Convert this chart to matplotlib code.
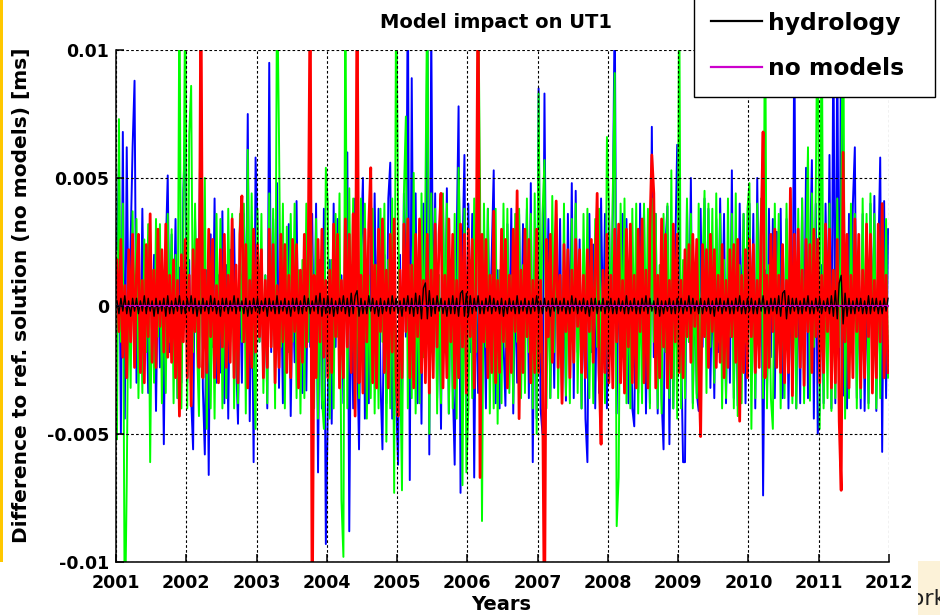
import numpy as np
import matplotlib
matplotlib.use("Agg")
import matplotlib.pyplot as plt
from matplotlib.patches import Rectangle

# UT1 differences to the reference solution, in units of 1e-4 ms.
# 36 samples per year, one row per year (2001 ... 2011).
blue_rows = [
    [22, 56, -50, 68, -44, 62, -12, 25, 62, 88, -30, 14, -22, 38, -16, 8, -34, 24, -12, 20, -41, 16, -24, 11, -54, 22, 51, -18, 28, -10, 34, -36, 15, -30, 45, 70],
    [-30, 18, -36, -56, 34, -12, 20, 86, -32, -58, 14, -66, 28, -16, 42, -30, 12, -26, 37, -38, 16, -44, 22, -8, 30, -20, -46, 12, -30, 36, -14, 75, -45, 20, -61, 58],
    [30, -14, 20, -28, 12, -40, 95, -18, 34, -10, 48, -32, 16, -38, 24, -12, 32, -43, 10, -22, 41, -28, 14, -34, 20, -33, 25, -16, 36, -24, 40, -65, 18, -40, 38, -93],
    [-40, 18, -46, 40, -16, 34, -28, 12, -38, 30, 60, -88, 16, -40, 42, -14, -56, 22, 50, -44, 10, -38, 26, -20, 44, -12, 38, -30, -56, 20, -38, 42, 56, -44, 14, -36],
    [-62, 20, -38, 44, -12, 130, -68, 89, -20, 44, -38, 16, -46, 40, -24, 120, -58, 110, -16, 44, -36, 12, -48, 40, -18, 46, -42, 14, -30, -62, 24, 78, -73, 20, 59, -44],
    [40, -18, 36, -67, 14, -34, 22, -36, 12, -40, 38, -12, 20, 53, -38, 14, -40, 26, -14, -39, 32, -16, 38, -42, 10, -30, 36, -20, 32, -12, 38, -36, 48, -61, 18, -44],
    [85, -40, -50, 83, -18, 34, -36, 14, -32, 36, -10, 34, -38, 12, -37, 36, -14, 48, -36, 45, -18, 26, -40, 14, -44, -61, 36, -18, 24, -40, 16, -34, 42, -12, 36, -40],
    [40, -18, 36, 120, -42, 18, -30, 36, -14, 34, -38, 12, -40, -47, 22, -34, 40, -16, 38, -42, 14, -38, 70, -20, 36, -42, 12, -36, -56, 24, 39, -54, 16, -40, 22, 63],
    [38, -16, -61, -61, 40, -14, 50, -38, 12, -34, -41, 38, -16, 42, -12, 38, -32, 14, -36, 34, -18, 42, -10, 36, -38, 14, -30, 53, -36, 18, -39, 40, -14, 36, -38, 20],
    [40, -18, 36, -40, 50, -16, 38, -74, 14, -34, 38, -20, 34, -36, 29, -12, 38, -36, -16, 34, -40, 14, -34, 110, -40, 16, -38, 42, -20, 54, -36, 18, 57, -44, 40, -50],
    [-40, 16, -38, 40, -14, 59, -40, 110, -38, 105, -36, 120, -35, 18, -40, 36, -18, 40, 62, -36, 14, -40, 36, -41, 12, -38, 40, -16, 43, -41, 18, 58, -57, 41, -36, 30],
]

green_rows = [
    [-52, 73, -14, 40, -130, -69, 16, -32, 37, -12, 34, -36, 10, -34, 26, -18, 32, -61, 14, -30, 34, -12, 32, -38, 8, -34, 36, -14, 30, -38, 20, -36, 130, -40, 24, 130],
    [-40, 67, 86, -18, 40, -16, -43, 44, -12, 50, -48, 16, -40, 14, -44, 36, -18, 34, -40, 12, -36, 38, -14, 36, -40, 10, -38, 36, -14, 40, -42, 61, -16, 44, -20, -48],
    [38, -14, 36, -34, 12, -38, 44, -16, 38, -40, 130, 66, -16, 40, -40, 31, -18, 36, -14, 40, -36, 14, -42, 18, -36, 40, -14, 38, 16, -40, 34, -44, 18, -36, -48, 54],
    [40, -44, 18, -40, 36, -12, 44, -76, -98, 130, -40, 46, -18, 42, -40, 14, -36, 42, -18, 40, -44, 12, -36, 38, -42, 16, -40, 38, -14, 40, -53, 18, -40, 42, -73, 130],
    [40, -18, -72, 44, 74, -40, 16, -36, 52, -42, 14, -38, 44, -20, 42, 130, -50, 44, -16, 38, -42, 12, -38, 44, -16, 40, -42, 18, -40, 36, -44, 54, 20, -70, 38, -65],
    [-40, 18, -36, 42, -18, 130, 44, -84, 40, -16, 38, -42, 12, -40, 38, -46, 14, -38, 40, -16, 38, -34, 12, -38, 36, -14, 38, -36, 16, -34, 42, -18, 36, -40, 44, -50],
    [83, -18, 36, 57, -40, 14, -36, 43, -18, 40, -36, 12, -34, 40, -35, 16, -38, 34, -14, 40, -34, 18, -40, 36, -14, 38, -36, 12, -38, 34, -16, 38, -40, 14, -38, 66],
    [40, -18, 44, 91, -86, -67, 40, -16, 42, -38, 14, -40, 38, -16, 40, -42, 12, -38, 40, -18, 38, -40, 42, -14, 36, -40, 16, -42, 36, -18, 40, -36, 53, -40, 18, -44],
    [130, -40, 18, -36, 42, -14, 36, -40, 16, -36, 40, -38, 14, 45, -34, 40, -16, 38, -30, 44, -14, 36, -40, 18, -36, 42, -12, 36, -40, 44, -43, 16, -38, 36, -14, 38],
    [48, -48, 18, -36, 40, -14, 42, -36, 130, -40, 16, -36, -48, 40, -14, 36, -40, 18, -36, 40, -12, 42, -38, 16, -40, 38, -14, 42, -38, 18, 62, -37, 44, -16, 46, 130],
    [-48, 130, -40, 18, -36, 40, -41, 14, -36, 42, -16, 40, 130, -44, 18, -36, 40, -14, 36, -40, 16, -36, 42, -18, 36, -40, 44, -14, 36, -40, 18, -36, 40, -16, 34, -28],
]

red_rows = [
    [18, -10, 26, -20, 8, -28, 22, -14, 28, -24, 12, 28, -26, 10, -30, 24, -12, 36, -22, 14, -24, 30, -8, 22, -18, 32, -20, 12, -22, 18, -28, 10, -43, 20, -14, 26],
    [-28, 12, -39, 22, -10, 26, -24, 130, -28, 14, -26, 30, -12, 26, -28, 8, -30, 22, -16, 28, -24, 12, -22, 34, -28, 16, -30, 28, 43, -14, 24, -32, 10, -24, 30, -18],
    [24, -12, 22, -28, 10, -24, 30, -16, 24, -30, 8, -24, 28, -14, 24, -26, 12, -28, 26, -10, 24, -32, 14, -22, 28, -16, 22, 130, -130, 12, -28, 26, -14, 30, -20, 10],
    [-28, 14, -26, 32, -12, 28, -32, 10, -28, 34, -16, 28, -26, 36, -43, 130, -30, 12, -34, 30, -14, 32, 54, -30, 16, -32, 30, -10, 34, -26, 14, -32, 28, -18, 34, -28],
    [-43, 14, -28, 32, -10, 34, -28, 16, -32, 28, -12, 34, -26, 10, -30, 28, -34, 14, -28, 32, -16, 28, 44, -32, 12, -28, 34, -14, 28, -32, 10, -28, 32, -16, 28, -34],
    [30, -12, 26, -32, 10, 130, -67, 28, -14, 26, -28, 12, -26, 37, -30, 10, -26, 30, -14, 26, -32, 12, -26, 30, -10, 45, -44, 14, -26, 30, -12, 26, -30, 10, -26, 30],
    [-26, 10, -28, -130, 26, -12, 28, -22, 8, 41, -24, 12, -38, 24, -10, 22, -28, 14, -22, 26, -8, 22, -26, 12, -28, 22, -10, 26, -22, 12, 44, -26, -54, 14, -26, 28],
    [-30, 12, -32, 30, -14, 32, -30, 10, -34, 30, -16, 32, -30, 12, -32, 30, -10, 34, -30, 14, -32, 30, 59, 44, -32, 12, -28, 34, -16, 28, -32, 10, -28, 32, -14, 28],
    [-26, 10, -28, 22, -12, 24, -22, 28, -8, 26, -22, -51, 24, -12, 22, -24, 28, -10, 22, -24, 12, -22, 24, -28, 10, -24, 22, -12, 24, -22, 26, -45, 12, -26, 22, -28],
    [26, -12, 24, -26, 10, -24, 30, 68, -28, 12, -24, 28, -10, 30, -24, 12, -26, 24, -30, 10, -26, 46, -35, 28, -12, 30, -24, 14, -31, 26, -10, 24, -26, 30, -12, 26],
    [-30, 12, -26, 32, -10, 30, -32, 14, -30, 26, -45, -72, 60, -14, 28, -32, 12, -28, 34, -10, 28, -32, 14, -28, 32, -12, 28, -34, 10, -28, 32, -14, 40, -28, 12, -26],
]

hydrology_rows = [
    [2, -3, 3, -2, 4, -3, 2, -4, 3, -2, 3, -3, 2, -2, 4, -3, 3, -2, 2, -4, 3, -3, 2, -2, 3, -4, 4, -3, 2, -3, 3, -2, 4, -3, 2, -3],
    [3, -2, 4, -3, 3, -4, 2, -3, 3, -2, 2, -3, 4, -2, 3, -3, 2, -4, 3, -2, 3, -3, 2, -2, 4, -3, 3, -2, 2, -3, 3, -4, 2, -3, 3, -2],
    [3, -3, 2, -2, 3, -4, 3, -2, 2, -3, 4, -3, 2, -2, 3, -3, 2, -4, 3, -2, 3, -3, 2, -3, 4, -2, 3, -3, 2, -2, 4, -3, 5, -4, 3, -3],
    [4, -3, 3, -4, 2, -3, 3, -2, 4, -3, 3, -4, 5, -3, 4, 6, -4, 3, -3, 2, -3, 4, -2, 3, -3, 2, -4, 3, -3, 2, -2, 3, -3, 4, -2, 3],
    [-3, 2, -4, 3, -2, 4, -3, 3, -4, 5, -3, 4, -5, 7, 9, -5, 6, -4, 3, -3, 4, -2, 3, -3, 2, -4, 3, -3, 4, -3, 3, -4, 5, 6, -4, 5],
    [-4, 4, -3, 3, -2, 4, -3, 2, -3, 3, -2, 4, -3, 3, -2, 2, -3, 3, -4, 2, -3, 3, -2, 2, -3, 4, -3, 2, -2, 3, -3, 2, -3, 3, -2, 4],
    [-3, 2, -3, 3, -2, 2, -4, 3, -2, 3, -3, 2, -2, 3, -3, 2, -3, 4, -2, 3, -3, 2, -2, 3, -3, 2, -4, 3, -2, 3, -3, 2, -2, 3, -3, 2],
    [-2, 3, -3, 2, -3, 3, -2, 2, -3, 4, -3, 2, -2, 3, -3, 2, -3, 3, -2, 4, -3, 3, -2, 2, -3, 3, -4, 2, -3, 2, -2, 3, -3, 2, -3, 3],
    [-2, 3, -3, 2, -2, 4, -3, 3, -2, 2, -3, 3, -3, 2, -2, 3, -3, 2, -4, 3, -2, 3, -3, 2, -2, 3, -3, 2, -3, 3, -2, 4, -3, 2, -3, 3],
    [-2, 3, -3, 2, -3, 3, -2, 4, -3, 2, -3, 3, -2, 3, -3, 4, -4, 5, 6, -5, 4, -3, 3, -2, 3, -3, 2, -3, 3, -2, 4, -3, 2, -3, 3, -2],
    [3, -3, 2, -2, 3, -3, 4, -4, 6, -5, 9, 12, -7, 5, -4, 3, -3, 2, -3, 3, -2, 3, -3, 2, -3, 4, -3, 3, -2, 3, -3, 2, -3, 3, -2, 3],
]

no_models_level = 0.0
start_year = 2001
samples_per_year = 36

year_ticks = list(range(2001, 2013))
value_ticks = [-0.01, -0.005, 0, 0.005, 0.01]
value_tick_labels = ["-0.01", "-0.005", "0", "0.005", "0.01"]

SCALE = 1e-4  # table units -> ms

blue = np.array(blue_rows).ravel() * SCALE
green = np.array(green_rows).ravel() * SCALE
red = np.array(red_rows).ravel() * SCALE
hydrology = np.array(hydrology_rows).ravel() * SCALE
t = start_year + (np.arange(blue.size) + 0.5) / samples_per_year

plt.rcParams["font.family"] = "DejaVu Sans"
plt.rcParams["font.weight"] = "bold"

fig = plt.figure(figsize=(9.4, 6.15), dpi=100)
ax = fig.add_axes([116 / 940, 1 - 562 / 615, 773 / 940, 512 / 615])

ax.plot(t, blue, color="#0000ff", lw=1.4)
ax.plot(t, green, color="#00ff00", lw=1.4)
ax.plot(t, red, color="#ff0000", lw=2.0)
h_line, = ax.plot(t, hydrology, color="black", lw=1.0, label="hydrology")
nm_line = ax.axhline(no_models_level, color="#cc00cc", lw=1.5, label="no models")

ax.set_xlim(2001, 2012)
ax.set_ylim(-0.01, 0.01)
ax.set_xticks(year_ticks)
ax.set_xticklabels([str(y) for y in year_ticks])
ax.set_yticks(value_ticks)
ax.set_yticklabels(value_tick_labels)

ax.grid(True, color="black", linestyle=(0, (2.4, 2.0)), linewidth=0.8)
ax.set_axisbelow(False)
for side in ("top", "right"):
    ax.spines[side].set_visible(False)
for side in ("left", "bottom"):
    ax.spines[side].set_linewidth(1.1)
ax.tick_params(direction="in", length=6, width=1.1, labelsize=12.5)
ax.tick_params(axis="x", pad=9)
ax.tick_params(axis="y", pad=5)

ax.set_title("Model impact on UT1", fontsize=14, fontweight="bold",
             x=(496 - 116) / 773, y=1 + (50 - 28) / 512, va="baseline", pad=0)
ax.set_xlabel("Years", fontsize=14, fontweight="bold", va="top")
ax.xaxis.set_label_coords((501 - 116) / 773, -(595 - 562) / 512)
ax.set_ylabel("Difference to ref. solution (no models) [ms]", fontsize=14.5,
              fontweight="bold", va="center")
ax.yaxis.set_label_coords(-(116 - 22) / 773, (562 - 295) / 512)

leg = fig.legend(handles=[h_line, nm_line], labels=["hydrology", "no models"],
                 loc="lower left",
                 bbox_to_anchor=(694 / 940, 1 - 97 / 615, 241 / 940, 0.2),
                 mode="expand", borderaxespad=0, fancybox=False,
                 edgecolor="black", framealpha=1, fontsize=16.8,
                 handlelength=2.19, handletextpad=0.26, labelspacing=0.97,
                 borderpad=0.72)
leg.get_frame().set_linewidth(1.0)
for line in leg.get_lines():
    line.set_linewidth(1.6)

# slide border strip and the corner of the neighbouring text box
fig.add_artist(Rectangle((0, 1 - 562 / 615), 3 / 940, 562 / 615,
                         transform=fig.transFigure, facecolor="#ffc800",
                         edgecolor="none"))
corner = Rectangle((918 / 940, 0), 22 / 940, 54 / 615, transform=fig.transFigure,
                   facecolor="#fcf2d8", edgecolor="none")
fig.add_artist(corner)
word = fig.text(890 / 940, 1 - 605 / 615, "Work", fontsize=16, fontweight="normal",
                color="#202020", va="baseline", ha="left")
word.set_clip_path(corner)

fig.savefig("out.png", dpi=100)
